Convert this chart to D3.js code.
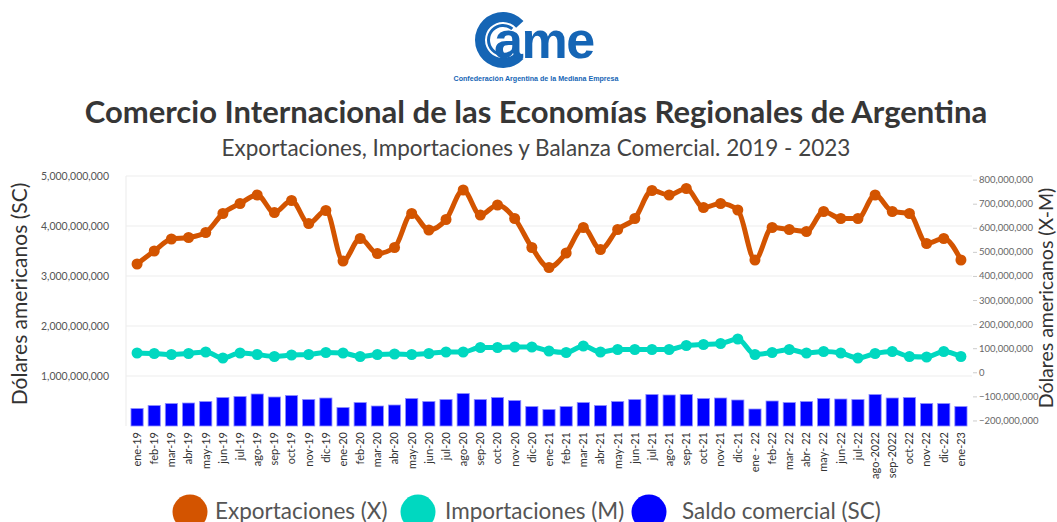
<!DOCTYPE html>
<html>
<head>
<meta charset="utf-8">
<script src="https://cdn.jsdelivr.net/npm/d3@7"></script>
<style>
  body { margin: 0; background: #fff; }
  svg { display: block; font-family: Lato, "Open Sans", sans-serif; }
</style>
</head>
<body>
<div id="chart"></div>
<script>
// meses (etiquetas tal cual el original)
const months = ["ene-19","feb-19","mar-19","abr-19","may-19","jun-19","jul-19","ago-19","sep-19","oct-19","nov-19","dic-19",
  "ene-20","feb-20","mar-20","abr-20","may-20","jun-20","jul-20","ago-20","sep-20","oct-20","nov-20","dic-20",
  "ene-21","feb-21","mar-21","abr-21","may-21","jun-21","jul-21","ago-21","sep-21","oct-21","nov-21","dic-21",
  "ene - 22","feb-22","mar- 22","abr- 22","may- 22","jun-22","jul-22","ago-2022","sep-2022","oct-22","nov-22","dic-22","ene-23"];

// valores en miles de millones de USD
const exportaciones = [3.24,3.50,3.74,3.77,3.87,4.25,4.45,4.62,4.27,4.51,4.05,4.31,
  3.30,3.75,3.45,3.57,4.25,3.92,4.13,4.72,4.22,4.42,4.15,3.57,
  3.17,3.46,3.97,3.53,3.93,4.15,4.71,4.62,4.75,4.37,4.45,4.32,
  3.32,3.97,3.93,3.89,4.29,4.15,4.15,4.62,4.29,4.25,3.65,3.75,3.32];

const importaciones = [1.46,1.45,1.43,1.45,1.48,1.36,1.46,1.43,1.39,1.42,1.43,1.47,
  1.46,1.39,1.43,1.44,1.43,1.45,1.48,1.48,1.57,1.57,1.58,1.58,
  1.50,1.47,1.60,1.48,1.53,1.53,1.53,1.53,1.61,1.63,1.65,1.74,
  1.43,1.47,1.53,1.46,1.49,1.46,1.36,1.45,1.49,1.39,1.38,1.49,1.39];

const saldo = [0.35,0.41,0.45,0.46,0.49,0.57,0.59,0.64,0.58,0.61,0.53,0.56,
  0.37,0.47,0.40,0.42,0.55,0.49,0.53,0.65,0.53,0.57,0.51,0.39,
  0.33,0.39,0.47,0.41,0.49,0.53,0.63,0.62,0.63,0.55,0.56,0.52,
  0.34,0.50,0.47,0.49,0.55,0.54,0.53,0.63,0.56,0.57,0.45,0.45,0.39];

const leftTicks = [1e9, 2e9, 3e9, 4e9, 5e9];
const rightTicks = [-200e6,-100e6,0,100e6,200e6,300e6,400e6,500e6,600e6,700e6,800e6];

const legendItems = ["Exportaciones (X)", "Importaciones (M)", "Saldo comercial (SC)"];
const colors = ["#d35400", "#00d8c0", "#0000ff"];

const width = 1057, height = 522;
const svg = d3.select("#chart").append("svg").attr("width", width).attr("height", height);

// ---- logo ----
const logoBlue = "#1565b5";
const logo = svg.append("g").attr("class", "logo");
const arcOuter = d3.arc().innerRadius(18).outerRadius(28)
  .startAngle(133 * Math.PI / 180).endAngle(407 * Math.PI / 180);
const arcInner = d3.arc().innerRadius(13).outerRadius(16)
  .startAngle(140 * Math.PI / 180).endAngle(400 * Math.PI / 180);
logo.append("path").attr("d", arcOuter).attr("transform", "translate(503,40)").attr("fill", logoBlue);
logo.append("path").attr("d", arcInner).attr("transform", "translate(503,40)").attr("fill", logoBlue);
logo.append("text").attr("x", 494).attr("y", 58)
  .attr("font-family", "'Liberation Sans', Arial, sans-serif").attr("font-weight", "bold")
  .attr("font-size", 52).attr("letter-spacing", -1.5).attr("fill", logoBlue).text("ame");
logo.append("text").attr("x", 536).attr("y", 81).attr("text-anchor", "middle")
  .attr("font-family", "'Liberation Sans', Arial, sans-serif").attr("font-weight", "bold")
  .attr("font-size", 7.1).attr("fill", logoBlue).text("Confederación Argentina de la Mediana Empresa");

// ---- titulos ----
svg.append("text").attr("x", 536).attr("y", 123).attr("text-anchor", "middle")
  .attr("font-weight", "bold").attr("font-size", 31).attr("fill", "#363636")
  .text("Comercio Internacional de las Economías Regionales de Argentina");
svg.append("text").attr("x", 536).attr("y", 156).attr("text-anchor", "middle")
  .attr("font-size", 22.5).attr("fill", "#444")
  .text("Exportaciones, Importaciones y Balanza Comercial. 2019 - 2023");

// ---- escalas ----
const plot = {left: 126, right: 972, top: 176, bottom: 426};
const x = d3.scaleBand().domain(months).range([plot.left, plot.right]).padding(0.29);
const y = d3.scaleLinear().domain([0, 5e9]).range([plot.bottom, plot.top]);
const yR = d3.scaleLinear().domain([-223e6, 815e6]).range([plot.bottom, plot.top]);
const cx = d => x(d) + x.bandwidth() / 2;

// grid
svg.append("g").selectAll("line").data(leftTicks).join("line")
  .attr("x1", plot.left).attr("x2", plot.right)
  .attr("y1", d => y(d)).attr("y2", d => y(d))
  .attr("stroke", "#eeeeee").attr("stroke-width", 1.2);
svg.append("line").attr("x1", plot.left).attr("x2", plot.left)
  .attr("y1", plot.top).attr("y2", plot.bottom).attr("stroke", "#eeeeee").attr("stroke-width", 1.2);

// eje izquierdo
const yAxis = svg.append("g").attr("transform", `translate(${plot.left - 14},0)`)
  .call(d3.axisLeft(y).tickValues(leftTicks).tickSize(0).tickFormat(d3.format(",")));
yAxis.select(".domain").remove();
yAxis.selectAll("text").attr("font-size", 10.5).attr("fill", "#555").attr("font-family", "Lato, sans-serif");

// eje derecho
const yAxisR = svg.append("g").attr("transform", `translate(${plot.right + 1},0)`)
  .call(d3.axisRight(yR).tickValues(rightTicks).tickSize(4).tickPadding(2).tickFormat(d3.format(",")));
yAxisR.select(".domain").remove();
yAxisR.selectAll("line").attr("stroke", "#cccccc");
yAxisR.selectAll("text").attr("font-size", 9.5).attr("fill", "#666").attr("font-family", "Lato, sans-serif");

// eje x
const xAxis = svg.append("g").attr("transform", `translate(0,${plot.bottom})`)
  .call(d3.axisBottom(x).tickSize(0).tickPadding(0));
xAxis.select(".domain").remove();
xAxis.selectAll("text")
  .attr("transform", "rotate(-90)")
  .attr("text-anchor", "end")
  .attr("x", -6).attr("y", 0).attr("dy", "0.35em")
  .attr("font-size", 11).attr("fill", "#333").attr("font-family", "Lato, sans-serif");

// barras saldo comercial
svg.append("g").selectAll("rect").data(saldo).join("rect")
  .attr("x", (d, i) => x(months[i]))
  .attr("width", x.bandwidth())
  .attr("y", d => y(d * 1e9))
  .attr("height", d => y(0) - y(d * 1e9))
  .attr("fill", colors[2]).attr("stroke", "#8f8fff").attr("stroke-width", 0.8);

// lineas
const line = d3.line().x((d, i) => cx(months[i])).y(d => y(d * 1e9)).curve(d3.curveMonotoneX);
[[importaciones, colors[1]], [exportaciones, colors[0]]].forEach(([serie, col]) => {
  svg.append("path").datum(serie).attr("d", line)
    .attr("fill", "none").attr("stroke", col).attr("stroke-width", 5)
    .attr("stroke-linejoin", "round").attr("stroke-linecap", "round");
  svg.append("g").selectAll("circle").data(serie).join("circle")
    .attr("cx", (d, i) => cx(months[i])).attr("cy", d => y(d * 1e9))
    .attr("r", 5.5).attr("fill", col);
});

// titulos de ejes
svg.append("text").attr("transform", "translate(27,294) rotate(-90)").attr("text-anchor", "middle")
  .attr("font-size", 21).attr("fill", "#333").text("Dólares americanos (SC)");
svg.append("text").attr("transform", "translate(1053,298) rotate(-90)").attr("text-anchor", "middle")
  .attr("font-size", 19.5).attr("fill", "#333").text("Dólares americanos (X-M)");

// leyenda
const legendCircleX = [190, 418, 649];
const legendTextX = [215, 445, 682];
const lg = svg.append("g").selectAll("g").data(legendItems).join("g");
lg.append("circle").attr("cx", (d, i) => legendCircleX[i]).attr("cy", 512)
  .attr("r", 17.5).attr("fill", (d, i) => colors[i]);
lg.append("text").attr("x", (d, i) => legendTextX[i]).attr("y", 518.5)
  .attr("font-size", 22.5).attr("fill", "#555").text(d => d);
</script>
</body>
</html>
